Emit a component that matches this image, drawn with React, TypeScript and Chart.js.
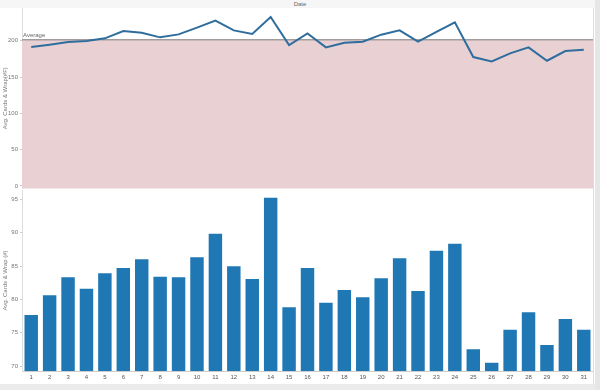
import React, { useEffect, useRef } from "react";
import { Chart, registerables } from "chart.js";

Chart.register(...registerables);

const days: string[] = Array.from({ length: 31 }, (_, i) => String(i + 1));

const avgCardsWrapF: number[] = [
  191.3, 194.5, 198.2, 199.6, 203.2, 213.3, 211.0, 204.6, 208.7, 217.9,
  227.6, 214.2, 209.2, 232.6, 194.0, 210.0, 190.8, 197.2, 198.6, 208.3,
  214.2, 198.6, 212.0, 225.3, 177.5, 171.5, 182.5, 190.8, 172.4, 185.8, 187.6,
];

const avgCardsWrapCount: number[] = [
  77.65, 80.6, 83.3, 81.6, 83.9, 84.7, 86.0, 83.4, 83.3, 86.3,
  89.85, 84.95, 83.05, 95.25, 78.8, 84.7, 79.5, 81.4, 80.3, 83.15,
  86.15, 81.25, 87.3, 88.35, 72.5, 70.5, 75.45, 78.05, 73.15, 77.05, 75.45,
];

const topTicks: number[] = [0, 50, 100, 150, 200];
const bottomTicks: number[] = [70, 75, 80, 85, 90, 95];

const FONT = "'Liberation Sans', Arial, sans-serif";
const TXT = "#777";

const average =
  avgCardsWrapF.reduce((a, b) => a + b, 0) / avgCardsWrapF.length;

const avgBandPlugin = {
  id: "avgBand",
  beforeDatasetsDraw(chart: any) {
    const { ctx, chartArea, scales } = chart;
    const y = scales.y.getPixelForValue(average);
    ctx.save();
    ctx.fillStyle = "#e9d1d3";
    ctx.fillRect(chartArea.left, y, chartArea.right - chartArea.left, chartArea.bottom - y);
    ctx.strokeStyle = "#a39c9c";
    ctx.lineWidth = 1.5;
    ctx.beginPath();
    ctx.moveTo(chartArea.left, y);
    ctx.lineTo(chartArea.right, y);
    ctx.stroke();
    ctx.fillStyle = "#666";
    ctx.font = `6px ${FONT}`;
    ctx.textBaseline = "alphabetic";
    ctx.textAlign = "left";
    ctx.fillText("Average", chartArea.left + 1, y - 3);
    ctx.restore();
  },
};

const fitY = (s: any) => {
  s.width = 22;
  s.paddingTop = 0;
  s.paddingBottom = 0;
};

export default function App() {
  const topRef = useRef<HTMLCanvasElement>(null);
  const botRef = useRef<HTMLCanvasElement>(null);

  useEffect(() => {
    const top = new Chart(topRef.current as HTMLCanvasElement, {
      type: "line",
      data: {
        labels: days,
        datasets: [
          {
            data: avgCardsWrapF,
            borderColor: "#2f6d9d",
            borderWidth: 2,
            pointRadius: 0,
            tension: 0,
            fill: false,
          },
        ],
      },
      plugins: [avgBandPlugin],
      options: {
        animation: false,
        responsive: false,
        maintainAspectRatio: false,
        layout: { padding: { left: 0, right: 7, top: 8, bottom: 1.5 } },
        plugins: { legend: { display: false }, tooltip: { enabled: false } },
        scales: {
          x: { display: false, offset: true },
          y: {
            min: -3.5,
            max: 245,
            afterBuildTicks: (s: any) => {
              s.ticks = topTicks.map((v) => ({ value: v }));
            },
            afterFit: fitY,
            grid: { drawOnChartArea: false, drawTicks: true, tickLength: 2, color: "#ccc" },
            border: { display: true, color: "#ddd" },
            ticks: { font: { size: 6, family: FONT }, color: TXT, padding: 2 },
            title: {
              display: true,
              text: "Avg. Cards & Wrap(#F)",
              font: { size: 6, family: FONT },
              color: TXT,
              padding: { top: 2, bottom: 0 },
            },
          },
        },
      },
    });

    const bot = new Chart(botRef.current as HTMLCanvasElement, {
      type: "bar",
      data: {
        labels: days,
        datasets: [
          {
            data: avgCardsWrapCount,
            backgroundColor: "#1f77b4",
            borderWidth: 0,
            barPercentage: 0.73,
            categoryPercentage: 1,
          },
        ],
      },
      options: {
        animation: false,
        responsive: false,
        maintainAspectRatio: false,
        layout: { padding: { left: 0, right: 7, top: 0, bottom: 6 } },
        plugins: { legend: { display: false }, tooltip: { enabled: false } },
        scales: {
          x: {
            offset: true,
            afterFit: (s: any) => {
              s.height = 13;
              s.paddingLeft = 0;
              s.paddingRight = 0;
            },
            grid: { drawOnChartArea: false, drawTicks: false },
            border: { display: true, color: "#ccc" },
            ticks: {
              font: { size: 6, family: FONT },
              color: "#555",
              padding: 3,
              maxRotation: 0,
              autoSkip: false,
            },
          },
          y: {
            min: 69.25,
            max: 96.4,
            afterBuildTicks: (s: any) => {
              s.ticks = bottomTicks.map((v) => ({ value: v }));
            },
            afterFit: fitY,
            grid: { drawOnChartArea: false, drawTicks: true, tickLength: 2, color: "#ccc" },
            border: { display: true, color: "#ddd" },
            ticks: { font: { size: 6, family: FONT }, color: TXT, padding: 2 },
            title: {
              display: true,
              text: "Avg. Cards & Wrap (#)",
              font: { size: 6, family: FONT },
              color: TXT,
              padding: { top: 2, bottom: 0 },
            },
          },
        },
      },
    });

    return () => {
      top.destroy();
      bot.destroy();
    };
  }, []);

  return (
    <div
      style={{
        position: "fixed",
        left: 0,
        top: 0,
        width: 600,
        height: 390,
        background: "#fff",
        overflow: "hidden",
      }}
    >
      <div
        style={{
          position: "absolute",
          left: 0,
          top: 0,
          width: 600,
          height: 8,
          background: "#f6f6f6",
          font: `6px ${FONT}`,
          color: "#666",
          textAlign: "center",
          lineHeight: "8px",
        }}
      >
        Date
      </div>
      <canvas
        ref={topRef}
        width={600}
        height={190}
        style={{ position: "absolute", left: 0, top: 0, width: 600, height: 190 }}
      />
      <canvas
        ref={botRef}
        width={600}
        height={200}
        style={{ position: "absolute", left: 0, top: 190, width: 600, height: 200 }}
      />
      <div style={{ position: "absolute", left: 593, top: 8, width: 1, height: 377, background: "#ddd" }} />
      <div style={{ position: "absolute", left: 595, top: 0, width: 5, height: 390, background: "#e6e6e6" }} />
      <div style={{ position: "absolute", left: 0, top: 384, width: 595, height: 6, background: "#ebebeb" }} />
    </div>
  );
}
